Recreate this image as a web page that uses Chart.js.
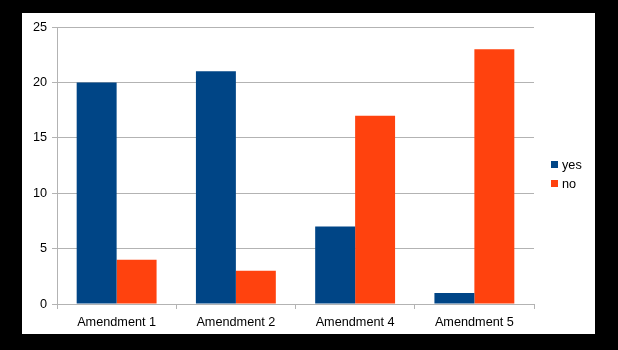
<!DOCTYPE html>
<html>
<head>
<meta charset="utf-8">
<script src="https://cdn.jsdelivr.net/npm/chart.js@4/dist/chart.umd.min.js"></script>
<style>
  html, body { margin: 0; padding: 0; background: #000; width: 618px; height: 350px; overflow: hidden; }
  #wrap { position: absolute; left: 22px; top: 13px; width: 573px; height: 321px; background: #fff; }
  canvas { display: block; }
</style>
</head>
<body>
<div id="wrap"><canvas id="c" width="573" height="321"></canvas></div>
<script>
const categories = ["Amendment 1", "Amendment 2", "Amendment 4", "Amendment 5"];
const yesValues = [20, 21, 7, 1];
const noValues = [4, 3, 17, 23];
const seriesNames = ["yes", "no"];
const yTicks = [0, 5, 10, 15, 20, 25];

const GRID = '#b3b3b3';
const FONT = { family: '"Liberation Sans", Arial, sans-serif', size: 12.7 };

const legendPlugin = {
  id: 'sideLegend',
  afterDraw(chart) {
    const ctx = chart.ctx;
    ctx.save();
    ctx.font = FONT.size + 'px ' + FONT.family;
    ctx.textBaseline = 'middle';
    ctx.textAlign = 'left';
    chart.data.datasets.forEach((ds, i) => {
      const y = 148 + i * 18.5;
      ctx.fillStyle = ds.backgroundColor;
      ctx.fillRect(529, Math.round(y), 7, 7);
      ctx.fillStyle = '#000';
      ctx.fillText(ds.label, 540, Math.round(y) + 4);
    });
    ctx.restore();
  }
};

new Chart(document.getElementById('c'), {
  type: 'bar',
  data: {
    labels: categories,
    datasets: [
      { label: seriesNames[0], data: yesValues, backgroundColor: '#004586', borderWidth: 0 },
      { label: seriesNames[1], data: noValues, backgroundColor: '#ff420e', borderWidth: 0 }
    ]
  },
  options: {
    responsive: false,
    animation: false,
    events: [],
    layout: { padding: { top: 14, right: 61, bottom: 0, left: 0 } },
    plugins: { legend: { display: false }, tooltip: { enabled: false } },
    datasets: { bar: { categoryPercentage: 0.67, barPercentage: 1.0 } },
    scales: {
      x: {
        offset: true,
        afterFit(s) { s.height = 30; },
        grid: {
          offset: true,
          drawOnChartArea: true,
          drawTicks: true,
          tickLength: 5,
          color: (c) => (c.index === categories.length ? GRID : 'rgba(0,0,0,0)'),
          tickColor: GRID,
          lineWidth: 1
        },
        border: { display: true, color: GRID, width: 1 },
        ticks: { color: '#000', font: FONT, padding: 6, maxRotation: 0 }
      },
      y: {
        min: 0,
        max: 25,
        afterFit(s) { s.width = 35; },
        afterBuildTicks(s) { s.ticks = yTicks.map(v => ({ value: v })); },
        grid: { color: GRID, tickColor: GRID, tickLength: 5, lineWidth: 1 },
        border: { display: true, color: GRID, width: 1 },
        ticks: { color: '#000', font: FONT, padding: 5 }
      }
    }
  },
  plugins: [legendPlugin]
});
</script>
</body>
</html>
